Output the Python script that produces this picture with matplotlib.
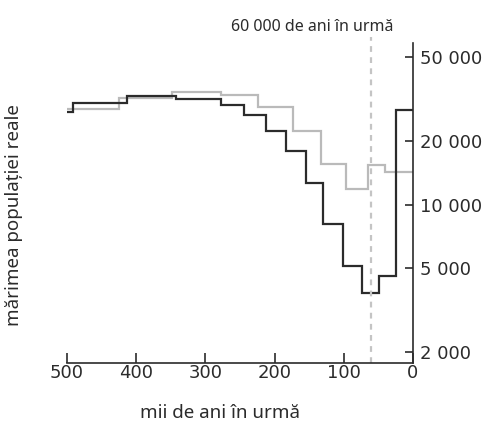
import matplotlib
matplotlib.use("Agg")
import matplotlib.pyplot as plt
from matplotlib.ticker import FixedLocator, FixedFormatter, NullLocator

plt.rcParams['font.family'] = ['Noto Sans', 'DejaVu Sans']

# thousands of years ago (ascending) and effective population size
black_edges = [0, 24, 49, 73, 101, 130, 155, 184, 213, 244, 278, 342, 414, 492, 500]
black_sizes = [28000, 4600, 3800, 5100, 8100, 12600, 17900, 22400, 26600, 29600,
               31600, 32800, 30400, 27500]

gray_edges = [0, 40, 65, 97, 133, 173, 224, 277, 348, 425, 500]
gray_sizes = [14200, 15400, 11900, 15600, 22400, 28900, 33200, 34000, 31900, 28400]

marker_year = 60
marker_label = "60 000 de ani în urmă"

x_ticks = [500, 400, 300, 200, 100, 0]
y_ticks = [2000, 5000, 10000, 20000, 50000]
y_tick_labels = ["2 000", "5 000", "10 000", "20 000", "50 000"]

ink = '#2b2b2b'
light = '#bababa'

fig = plt.figure(figsize=(4.92, 4.23), dpi=100)
ax = fig.add_axes([67/492, 1 - 363/423, 346/492, 320/423])

ax.stairs(gray_sizes, gray_edges, baseline=None, color=light, lw=1.6)
ax.stairs(black_sizes, black_edges, baseline=None, color=ink, lw=1.6)

ax.axvline(marker_year, ymin=0, ymax=1.02, clip_on=False, color='#c4c4c4',
           lw=1.6, dashes=(2.6, 2.4))

ax.set_yscale('log')
ax.set_xlim(500, 0)
ax.set_ylim(1774, 58260)

for s in ['top', 'left']:
    ax.spines[s].set_visible(False)
for s in ['bottom', 'right']:
    ax.spines[s].set_color(ink)
    ax.spines[s].set_linewidth(1.2)

ax.yaxis.tick_right()
ax.yaxis.set_major_locator(FixedLocator(y_ticks))
ax.yaxis.set_major_formatter(FixedFormatter(y_tick_labels))
ax.yaxis.set_minor_locator(NullLocator())
ax.set_xticks(x_ticks)
ax.set_xticklabels([str(t) for t in x_ticks])

ax.tick_params(axis='both', direction='in', color=ink, labelcolor=ink,
               width=1.2, labelsize=13, labelfontfamily='DejaVu Sans')
ax.tick_params(axis='x', length=7, pad=1)
ax.tick_params(axis='y', length=6, pad=5)

fig.text(220/492, 1 - 418/423, "mii de ani în urmă", ha='center', va='baseline',
         fontsize=13.5, color=ink)
fig.text(14/492, 1 - 215/423, "mărimea populației reale", rotation=90,
         ha='center', va='center', fontsize=13.5, color=ink)
fig.text(312/492, 1 - 31/423, marker_label, ha='center', va='baseline',
         fontsize=11.5, color=ink)

fig.savefig('out.png', dpi=100)
